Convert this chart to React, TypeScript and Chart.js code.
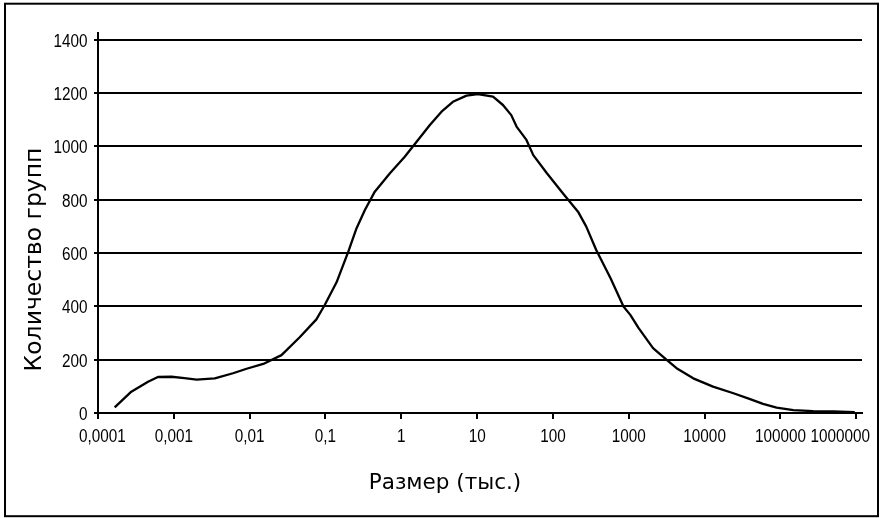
import { useEffect, useRef } from 'react';
import { Chart, registerables } from 'chart.js';

Chart.register(...registerables);

// Size (thousands)
const sizes = [
  0.000166, 0.000275, 0.000457, 0.000617, 0.000933, 0.00138, 0.002, 0.00347,
  0.00603, 0.00912, 0.0151, 0.0263, 0.0457, 0.0759, 0.0977, 0.14, 0.2, 0.257,
  0.331, 0.447, 0.708, 1.11, 1.66, 2.38, 3.39, 4.79, 7.24, 10.2, 16.2, 21.9,
  28.2, 33.1, 44.7, 55.0, 83.2, 135, 214, 275, 372, 575, 851, 1047, 1349, 2089,
  3162, 4266, 7079, 12900, 24000, 39800, 58900, 89100, 148000, 269000, 501000,
  955000,
];

// Number of groups
const groupCounts = [
  21, 80, 117, 135, 136, 131, 125, 130, 149, 166, 184, 217, 284, 351, 405, 490,
  605, 693, 761, 830, 899, 961, 1024, 1080, 1130, 1167, 1190, 1196, 1186, 1155,
  1117, 1074, 1024, 967, 899, 824, 755, 699, 611, 505, 399, 368, 318, 243, 199,
  168, 130, 99, 74, 52, 34, 20, 11, 7, 6, 3,
];

const xTickValues = [0.0001, 0.001, 0.01, 0.1, 1, 10, 100, 1000, 10000, 100000, 1000000];
const xTickLabels = ['0,0001', '0,001', '0,01', '0,1', '1', '10', '100', '1000', '10000', '100000', '1000000'];
const yTickValues = [0, 200, 400, 600, 800, 1000, 1200, 1400];
const yTickLabels = ['0', '200', '400', '600', '800', '1000', '1200', '1400'];

const xTitle = 'Размер (тыс.)';
const yTitle = 'Количество групп';

const TICK_FONT = '18px "Liberation Sans", Arial, sans-serif';
const SQUEEZE = 0.85;

const framePlugin = {
  id: 'framePlugin',
  afterDraw(chart: any) {
    const ctx = chart.ctx;
    const xs = chart.scales.x;
    const ys = chart.scales.y;
    ctx.save();
    ctx.strokeStyle = '#000';
    ctx.lineWidth = 2;
    ctx.strokeRect(5, 3.7, 873, 512.5);

    ctx.fillStyle = '#000';

    // condensed tick labels, positioned through the chart's scales
    ctx.font = TICK_FONT;
    ctx.textBaseline = 'alphabetic';
    ctx.textAlign = 'center';
    const labelBaseline = xs.top + 28.5;
    xTickValues.forEach((v, i) => {
      const label = xTickLabels[i];
      const w = ctx.measureText(label).width * SQUEEZE;
      let cx = xs.getPixelForValue(v);
      if (cx - w / 2 < 79) cx = 79 + w / 2;
      if (cx + w / 2 > 870) cx = 870 - w / 2;
      ctx.save();
      ctx.translate(cx, labelBaseline);
      ctx.scale(SQUEEZE, 1);
      ctx.fillText(label, 0, 0);
      ctx.restore();
    });

    ctx.textAlign = 'right';
    ctx.textBaseline = 'middle';
    yTickValues.forEach((v, i) => {
      const py = ys.getPixelForValue(v) + 2;
      ctx.save();
      ctx.translate(87.5, py);
      ctx.scale(SQUEEZE, 1);
      ctx.fillText(yTickLabels[i], 0, 0);
      ctx.restore();
    });

    // axis titles
    ctx.textAlign = 'center';
    ctx.textBaseline = 'alphabetic';
    ctx.font = '21.5px "DejaVu Sans", sans-serif';
    ctx.fillText(xTitle, 445, 488.5);

    ctx.font = '23.5px "DejaVu Sans", sans-serif';
    ctx.translate(41, 259.5);
    ctx.rotate(-Math.PI / 2);
    ctx.fillText(yTitle, 0, 0);
    ctx.restore();
  },
};

export default function App() {
  const ref = useRef<HTMLCanvasElement | null>(null);

  useEffect(() => {
    if (!ref.current) return;
    const chart = new Chart(ref.current, {
      type: 'line',
      data: {
        datasets: [
          {
            data: sizes.map((x, i) => ({ x, y: groupCounts[i] })),
            borderColor: '#000',
            borderWidth: 2.3,
            pointRadius: 0,
            tension: 0,
            fill: false,
            borderJoinStyle: 'round',
          },
        ],
      },
      options: {
        animation: false,
        responsive: false,
        maintainAspectRatio: false,
        layout: { padding: { top: 33, right: 18, bottom: 0, left: 0 } },
        plugins: {
          legend: { display: false },
          tooltip: { enabled: false },
          title: { display: false },
        },
        scales: {
          x: {
            type: 'logarithmic',
            min: 0.0001,
            max: 1190000,
            afterBuildTicks: (s: any) => {
              s.ticks = xTickValues.map((v) => ({ value: v }));
            },
            afterFit: (s: any) => {
              s.height = 105;
              s.paddingLeft = 0;
              s.paddingRight = 0;
            },
            ticks: {
              display: false,
              autoSkip: false,
              callback: (_v: any, i: number) => xTickLabels[i],
            },
            grid: {
              drawOnChartArea: false,
              drawTicks: true,
              tickLength: 6,
              color: '#000',
              lineWidth: 2,
            },
            border: { display: true, color: '#000', width: 2 },
          },
          y: {
            type: 'linear',
            min: 0,
            max: 1425,
            afterBuildTicks: (s: any) => {
              s.ticks = yTickValues.map((v) => ({ value: v }));
            },
            afterFit: (s: any) => {
              s.width = 98;
              s.paddingTop = 0;
              s.paddingBottom = 0;
            },
            ticks: {
              display: false,
              callback: (_v: any, i: number) => yTickLabels[i],
            },
            grid: {
              color: '#000',
              lineWidth: 2,
              tickLength: 4,
            },
            border: { display: true, color: '#000', width: 2 },
          },
        },
      },
      plugins: [framePlugin],
    } as any);
    return () => chart.destroy();
  }, []);

  return (
    <div style={{ position: 'absolute', left: 0, top: 0, width: 880, height: 518, background: '#fff' }}>
      <canvas ref={ref} width={880} height={518} style={{ display: 'block' }} />
    </div>
  );
}
